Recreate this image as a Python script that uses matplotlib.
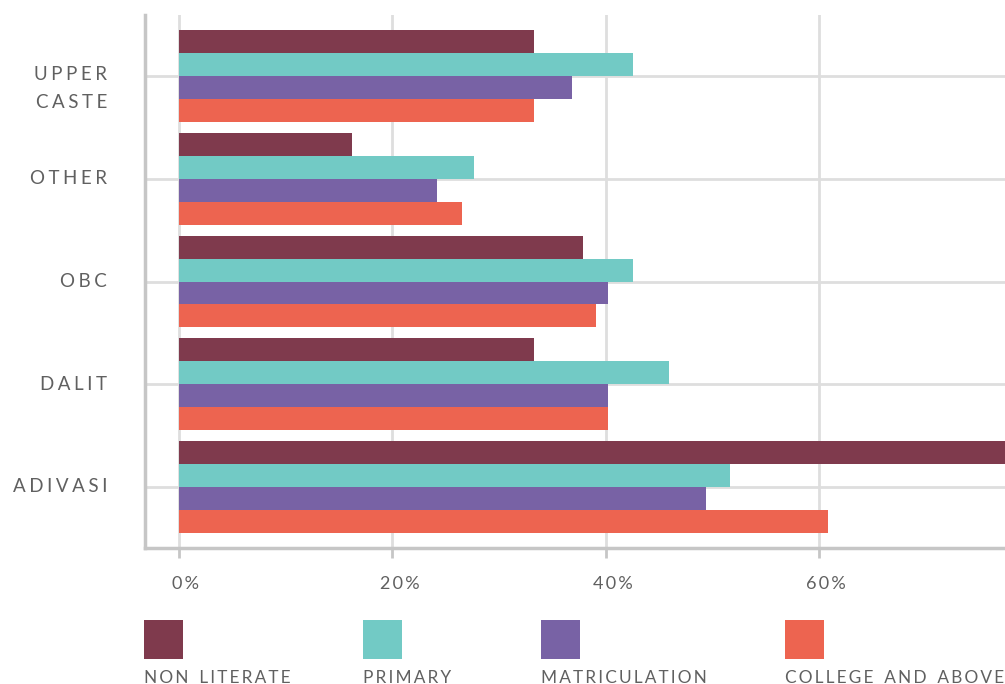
import matplotlib.pyplot as plt
import numpy as np
from matplotlib.patches import Rectangle
from matplotlib.transforms import blended_transform_factory, ScaledTranslation

plt.rcParams['font.family'] = ['Lato', 'DejaVu Sans']

# data (percent)
groups = ['UPPER CASTE', 'OTHER', 'OBC', 'DALIT', 'ADIVASI']
levels = ['NON LITERATE', 'PRIMARY', 'MATRICULATION', 'COLLEGE AND ABOVE']
non_literate = [33.3, 16.2, 37.9, 33.3, 80.0]
primary = [42.5, 27.6, 42.5, 45.9, 51.6]
matriculation = [36.8, 24.2, 40.2, 40.2, 49.4]
college = [33.3, 26.5, 39.1, 40.2, 60.8]
xticks = [0, 20, 40, 60]
xtick_labels = ['0%', '20%', '40%', '60%']

colors = ['#7F3A4D', '#72CAC5', '#7862A5', '#ED6450']
text_col = '#606060'
grid_col = '#dedede'
spine_col = '#c6c6c6'


def spaced(s, gap='\u2009'):
    # wide letter spacing like the original
    return gap.join(s).replace(gap + ' ' + gap, gap + gap + ' ' + gap)


W, H = 1005, 684
fig = plt.figure(figsize=(W / 100, H / 100), dpi=100)
ax = fig.add_axes([145 / W, (H - 548) / H, (W - 145) / W, (548 - 15) / H])

y = np.arange(len(groups))
h = 0.2238
series = [non_literate, primary, matriculation, college]
for i, (vals, c) in enumerate(zip(series, colors)):
    ax.barh(y + (i - 1.5) * h, vals, height=h, color=c, zorder=3)

ax.set_ylim(4.594, -0.594)
ax.set_xlim(-3.18, 77.4)

ax.set_yticks(y)
ax.set_yticklabels([])
ax.tick_params(axis='y', length=0)
ax.set_xticks(xticks)
ax.set_xticklabels([spaced(t) for t in xtick_labels])
ax.tick_params(axis='x', direction='out', length=7.5, width=2, color=spine_col,
               pad=13, labelsize=13, labelcolor=text_col)
for lab in ax.get_xticklabels():
    lab.set_transform(lab.get_transform() + ScaledTranslation(0.07, 0, fig.dpi_scale_trans))

ax.grid(True, color=grid_col, lw=2, zorder=0)
ax.set_axisbelow(True)
for s in ['top', 'right']:
    ax.spines[s].set_visible(False)
for s in ['left', 'bottom']:
    ax.spines[s].set_color(spine_col)
    ax.spines[s].set_linewidth(2.5)

# category labels
tr = blended_transform_factory(ax.transAxes, ax.transData)
lx = (107 - 145) / (W - 145)
label_pos = [[('UPPER', -0.01), ('CASTE', 0.253)], [('OTHER', 0)], [('OBC', 0)],
             [('DALIT', 0)], [('ADIVASI', 0)]]
for gi, parts in enumerate(label_pos):
    for txt, dy in parts:
        ax.text(lx, gi + dy, spaced(txt, '\u2009\u200a'), transform=tr, ha='right',
                va='center', fontsize=13.5, color=text_col)

# legend
leg_x = [144, 363, 541, 785]
for lx_px, name, c in zip(leg_x, levels, colors):
    fig.add_artist(Rectangle((lx_px / W, (H - 659) / H), 39 / W, 39 / H,
                             transform=fig.transFigure, color=c, lw=0))
    fig.text(lx_px / W, 1.0 / H, spaced(name), ha='left', va='baseline',
             fontsize=12.4, color=text_col)

fig.savefig('out.png', dpi=100)
